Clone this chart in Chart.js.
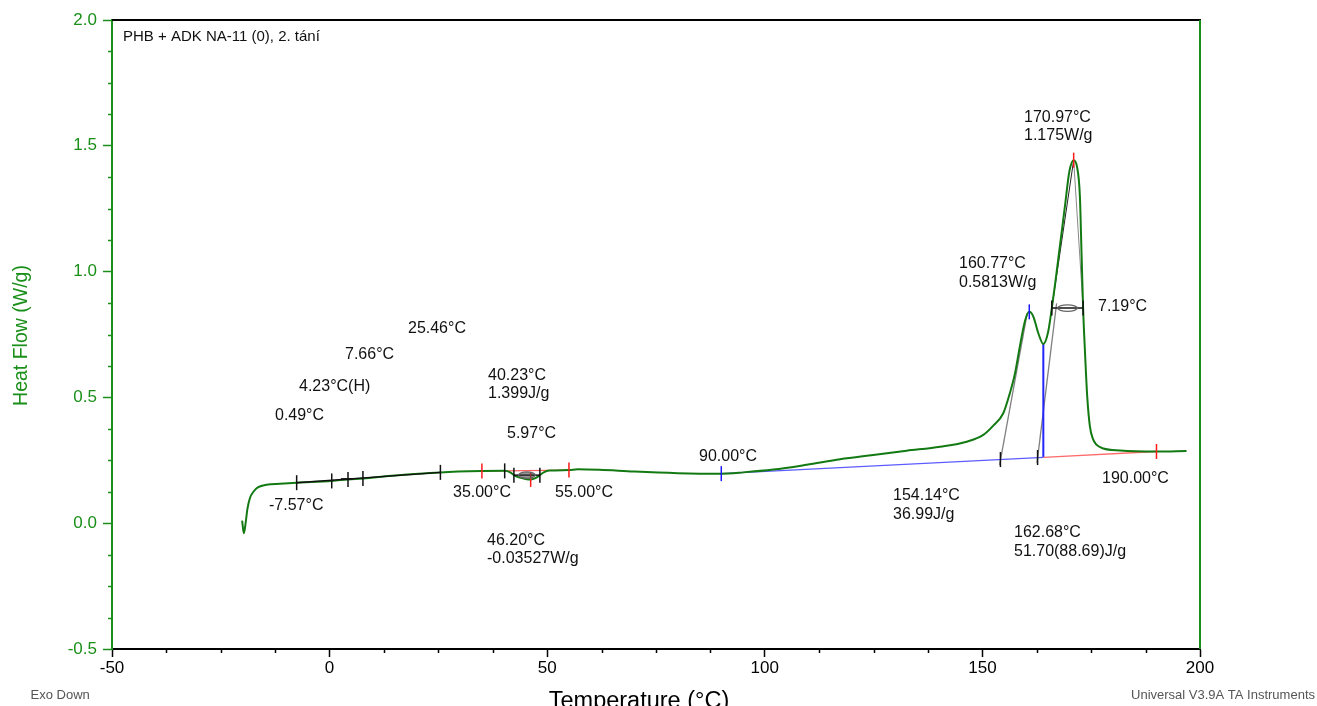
<!DOCTYPE html>
<html>
<head>
<meta charset="utf-8">
<script src="https://cdn.jsdelivr.net/npm/chart.js@4.4.1/dist/chart.umd.min.js"></script>
<style>
  html, body { margin: 0; padding: 0; background: #fff; }
  #wrap { position: relative; width: 1317px; height: 706px; }
</style>
</head>
<body>
<div id="wrap"><canvas id="dsc"></canvas></div>
<script>
// heat flow trace, 2nd heating
const tempC = [-20.1, -19.7, -19.3, -18.9, -18.3, -17.5, -16.4, -14.5, -11.4, -7.57,
  0.49, 4.23, 7.66, 15, 25.46, 35, 40.23, 41.5, 42.35, 43.5,
  45, 46.2, 47.3, 48.32, 49.2, 50.5, 55, 57, 62, 70,
  80, 90, 95, 102, 109.6, 117.3, 124.9, 132.6, 140.3, 146.4,
  150.2, 152.5, 154.8, 156.3, 157.5, 158.6, 159.8, 160.77, 161.7, 162.85,
  164, 165.1, 165.95, 166.7, 167.8, 169, 170, 170.97, 171.7, 172.4,
  172.8, 173.14, 173.6, 174.1, 174.7, 175.4, 176.2, 177.8, 181.6, 190, 196.9];
const heatFlow = [0.01, -0.04, 0.0, 0.055, 0.10, 0.125, 0.143, 0.153, 0.157, 0.161,
  0.168, 0.174, 0.178, 0.19, 0.202, 0.207, 0.208, 0.202, 0.191, 0.182,
  0.176, 0.174, 0.179, 0.191, 0.202, 0.209, 0.211, 0.214, 0.212, 0.205,
  0.199, 0.197, 0.202, 0.213, 0.232, 0.254, 0.271, 0.288, 0.304, 0.324,
  0.351, 0.388, 0.437, 0.516, 0.596, 0.702, 0.805, 0.840, 0.821, 0.755,
  0.712, 0.76, 0.855, 0.95, 1.10, 1.265, 1.40, 1.443, 1.42, 1.30,
  1.06, 0.855, 0.67, 0.50, 0.385, 0.335, 0.312, 0.297, 0.289, 0.285, 0.287];

// analysis marks
const blackTickT  = [-7.57, 0.49, 4.23, 7.66, 25.46, 40.23, 42.35, 48.32, 154.14, 162.68, 165.95, 173.14];
const blackTickHF = [0.161, 0.168, 0.174, 0.178, 0.202, 0.208, 0.191, 0.191, 0.253, 0.261, 0.855, 0.855];
const redTickT  = [35, 46.2, 55, 170.97, 190];
const redTickHF = [0.207, 0.174, 0.211, 1.443, 0.285];
const blueTickT  = [90, 160.77];
const blueTickHF = [0.197, 0.840];

// baselines and construction lines
const tgT = [-7.57, 25.46],        tgHF = [0.161, 0.202];
const halfT = [2.6, 5.4],          halfHF = [0.176, 0.176];
const dipBaseT = [35, 55],         dipBaseHF = [0.207, 0.211];
const blueBaseT = [90, 164],       blueBaseHF = [0.197, 0.262];
const redBaseT = [164, 190],       redBaseHF = [0.262, 0.285];
const dropT = [164, 164],          dropHF = [0.262, 0.712];
const tan1T = [153.95, 160.3],     tan1HF = [0.232, 0.835];
const tan2T = [162.55, 167.05],    tan2HF = [0.24, 0.874];
const flankLT = [165.95, 170.97],  flankLHF = [0.855, 1.443];
const flankRT = [170.97, 173.14],  flankRHF = [1.443, 0.855];
const widthAT = [42.35, 48.32],    widthAHF = [0.191, 0.191];
const widthBT = [165.95, 173.14],  widthBHF = [0.855, 0.855];

// result labels (left edge / middle of text)
const noteText = ['25.46°C', '7.66°C', '4.23°C(H)', '0.49°C', '-7.57°C',
  '40.23°C', '1.399J/g', '5.97°C', '35.00°C', '55.00°C', '46.20°C', '-0.03527W/g',
  '90.00°C', '154.14°C', '36.99J/g', '162.68°C', '51.70(88.69)J/g', '190.00°C',
  '160.77°C', '0.5813W/g', '170.97°C', '1.175W/g', '7.19°C'];
const noteT = [18.01, 3.54, -7.03, -12.55, -13.92,
  36.40, 36.40, 40.76, 28.35, 51.79, 36.17, 36.17,
  84.88, 129.46, 129.46, 157.26, 157.26, 177.48,
  144.62, 144.62, 159.56, 159.56, 176.56];
const noteHF = [0.772, 0.672, 0.541, 0.426, 0.068,
  0.585, 0.514, 0.358, 0.120, 0.120, -0.071, -0.142,
  0.263, 0.108, 0.033, -0.039, -0.114, 0.176,
  1.030, 0.957, 1.612, 1.539, 0.860];

const FONT = "'Liberation Sans', Arial, sans-serif";
const GREEN = '#1a8f1a';
const CURVE = '#137a13';

const pts = (xs, ys) => xs.map((v, i) => ({x: v, y: ys[i]}));

function seg(xs, ys, color, width, order) {
  return {data: pts(xs, ys), showLine: true, borderColor: color, borderWidth: width,
          pointRadius: 0, order: order};
}
function ticks(xs, ys, color) {
  return {data: pts(xs, ys), showLine: false, pointStyle: 'line', rotation: 90,
          pointRadius: 7.5, pointBorderColor: color, pointBorderWidth: 1.5, order: 0};
}

const decor = {
  id: 'decor',
  afterDatasetsDraw(chart) {
    const {ctx, scales: {x, y}} = chart;
    // double-arrow lens between the width ticks
    [[widthAT, widthAHF, true], [widthBT, widthBHF, false]].forEach(([ts, hs, fill]) => {
      const cx = (x.getPixelForValue(ts[0]) + x.getPixelForValue(ts[1])) / 2;
      const cy = y.getPixelForValue(hs[0]);
      const rx = (x.getPixelForValue(ts[1]) - x.getPixelForValue(ts[0])) * 0.32;
      ctx.save();
      ctx.beginPath();
      ctx.ellipse(cx, cy, rx, 3.2, 0, 0, Math.PI * 2);
      if (fill) { ctx.fillStyle = 'rgba(60,60,60,0.55)'; ctx.fill(); }
      ctx.strokeStyle = '#666';
      ctx.lineWidth = 1.2;
      ctx.stroke();
      ctx.restore();
    });
  },
  afterDraw(chart) {
    const {ctx, chartArea: a, scales: {x, y}} = chart;
    ctx.save();
    // frame
    ctx.lineWidth = 2;
    ctx.strokeStyle = '#000';
    ctx.beginPath(); ctx.moveTo(a.left, a.top); ctx.lineTo(a.right + 1, a.top); ctx.stroke();
    ctx.strokeStyle = GREEN;
    ctx.beginPath(); ctx.moveTo(a.right, a.top); ctx.lineTo(a.right, a.bottom); ctx.stroke();

    // minor ticks
    ctx.lineWidth = 1.5;
    ctx.strokeStyle = '#000';
    for (let v = -50; v <= 200; v += 12.5) {
      if (v % 50 === 0) continue;
      const px = Math.round(x.getPixelForValue(v)) + 0.5;
      ctx.beginPath(); ctx.moveTo(px, a.bottom); ctx.lineTo(px, a.bottom + 4); ctx.stroke();
    }
    ctx.strokeStyle = GREEN;
    for (let v = -0.5; v <= 2.0; v += 0.125) {
      if (Math.abs(v * 2 - Math.round(v * 2)) < 1e-6) continue;
      const py = Math.round(y.getPixelForValue(v)) + 0.5;
      ctx.beginPath(); ctx.moveTo(a.left - 4, py); ctx.lineTo(a.left, py); ctx.stroke();
    }

    // sample name
    ctx.fillStyle = '#111';
    ctx.font = '15px ' + FONT;
    ctx.textAlign = 'left';
    ctx.textBaseline = 'middle';
    ctx.fillText('PHB + ADK NA-11 (0), 2. tání', a.left + 11, a.top + 17);

    // result labels
    ctx.font = '16px ' + FONT;
    noteText.forEach((t, i) => {
      ctx.fillText(t, x.getPixelForValue(noteT[i]), y.getPixelForValue(noteHF[i]));
    });

    // axis titles
    ctx.font = '23.5px ' + FONT;
    ctx.textAlign = 'center';
    ctx.textBaseline = 'alphabetic';
    ctx.fillStyle = '#000';
    ctx.fillText('Temperature (°C)', 639, 708);

    ctx.save();
    ctx.translate(26.7, (a.top + a.bottom) / 2 + 1);
    ctx.rotate(-Math.PI / 2);
    ctx.font = '19.5px ' + FONT;
    ctx.fillStyle = GREEN;
    ctx.fillText('Heat Flow (W/g)', 0, 0);
    ctx.restore();

    // footer
    ctx.font = '13px ' + FONT;
    ctx.fillStyle = '#555';
    ctx.textBaseline = 'middle';
    ctx.textAlign = 'left';
    ctx.fillText('Exo Down', 30.5, 695.5);
    ctx.textAlign = 'right';
    ctx.fillText('Universal V3.9A TA Instruments', 1315, 695.5);
    ctx.restore();
  }
};

new Chart(document.getElementById('dsc'), {
  type: 'scatter',
  data: {
    datasets: [
      ticks(blackTickT, blackTickHF, '#111'),
      ticks(redTickT, redTickHF, '#ff1a1a'),
      ticks(blueTickT, blueTickHF, '#1a1aff'),
      seg(tgT, tgHF, '#111', 1.5, 1),
      seg(halfT, halfHF, '#111', 1.5, 1),
      seg(widthAT, widthAHF, '#111', 1.5, 1),
      seg(widthBT, widthBHF, '#111', 1.5, 1),
      {
        data: pts(tempC, heatFlow),
        showLine: true,
        borderColor: CURVE,
        borderWidth: 2,
        pointRadius: 0,
        cubicInterpolationMode: 'monotone',
        order: 2
      },
      seg(dipBaseT, dipBaseHF, '#ff6262', 1.3, 3),
      seg(blueBaseT, blueBaseHF, '#5c5cff', 1.3, 3),
      seg(redBaseT, redBaseHF, '#ff6a6a', 1.3, 3),
      seg(dropT, dropHF, '#2424ff', 2, 3),
      seg(tan1T, tan1HF, '#808080', 1.3, 3),
      seg(tan2T, tan2HF, '#808080', 1.3, 3),
      seg(flankLT, flankLHF, '#222', 1, 3),
      seg(flankRT, flankRHF, '#888', 1, 3)
    ]
  },
  options: {
    responsive: true,
    maintainAspectRatio: false,
    animation: false,
    devicePixelRatio: 1,
    layout: { padding: { left: 0, right: 117, top: 20, bottom: 0 } },
    plugins: { legend: { display: false }, tooltip: { enabled: false } },
    scales: {
      x: {
        type: 'linear',
        position: 'bottom',
        min: -50,
        max: 200,
        afterFit: (s) => { s.height = 57; },
        ticks: { stepSize: 50, color: '#000', padding: 1, font: { size: 17, family: FONT } },
        grid: { drawOnChartArea: false, drawTicks: true, tickLength: 8, tickColor: '#000', tickWidth: 1.5 },
        border: { color: '#000', width: 2 }
      },
      y: {
        type: 'linear',
        min: -0.5,
        max: 2.0,
        afterFit: (s) => { s.width = 112; },
        ticks: {
          stepSize: 0.5,
          color: GREEN,
          padding: 6,
          font: { size: 17, family: FONT },
          callback: (v) => v.toFixed(1)
        },
        grid: { drawOnChartArea: false, drawTicks: true, tickLength: 9, tickColor: GREEN, tickWidth: 1.5 },
        border: { color: GREEN, width: 2 }
      }
    }
  },
  plugins: [decor]
});
</script>
</body>
</html>
